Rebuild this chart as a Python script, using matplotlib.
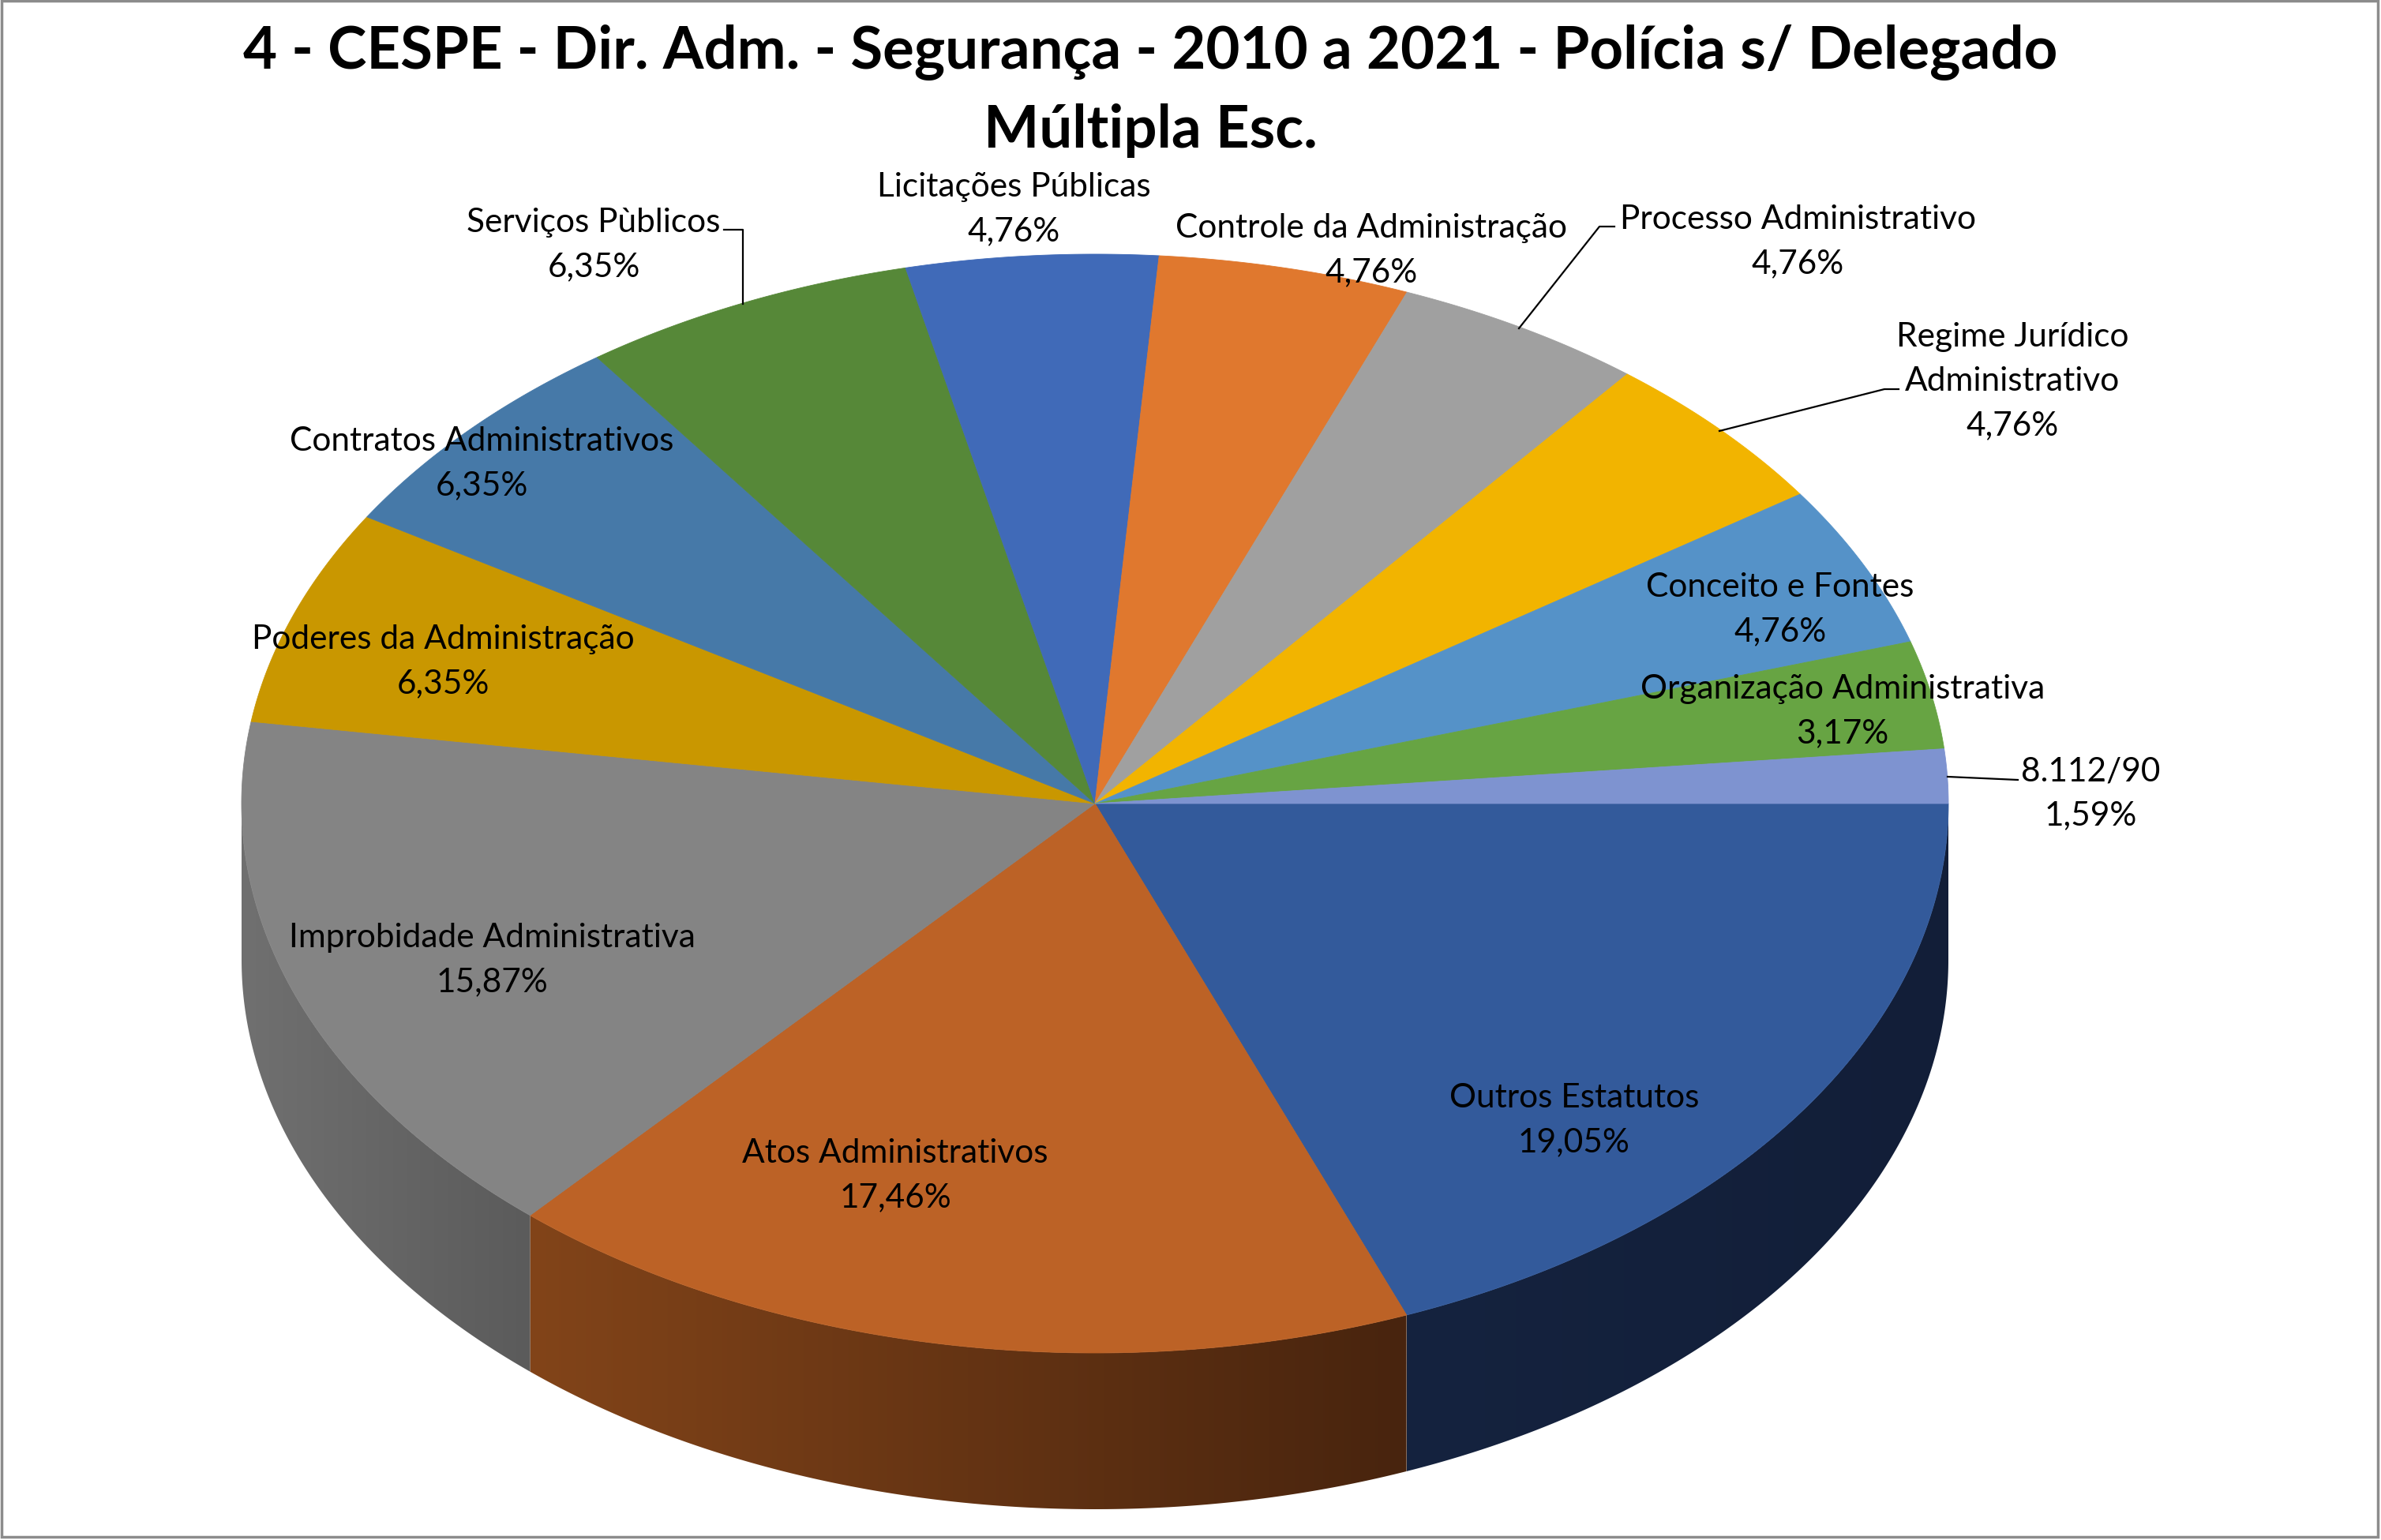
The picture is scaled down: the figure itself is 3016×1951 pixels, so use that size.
import numpy as np
import matplotlib
matplotlib.use('Agg')
import matplotlib.pyplot as plt
from matplotlib.patches import Polygon, Rectangle
from matplotlib.colors import to_rgb

# Dados (percentual de questoes por assunto)
titulo_1 = "4 - CESPE - Dir. Adm. - Segurança - 2010 a 2021 - Polícia s/ Delegado"
titulo_2 = "Múltipla Esc."
assuntos = ["Outros Estatutos", "Atos Administrativos", "Improbidade Administrativa",
            "Poderes da Administração", "Contratos Administrativos", "Serviços Pùblicos",
            "Licitações Públicas", "Controle da Administração", "Processo Administrativo",
            "Regime Jurídico\nAdministrativo", "Conceito e Fontes",
            "Organização Administrativa", "8.112/90"]
percentuais = [19.05, 17.46, 15.87, 6.35, 6.35, 6.35, 4.76, 4.76, 4.76, 4.76, 4.76, 3.17, 1.59]

# Estilo
cores_topo = ['#335A9B', '#BC6226', '#848484', '#C99700', '#4679A8', '#568838', '#406AB8',
              '#E0782E', '#A0A0A0', '#F2B400', '#5592C8', '#67A443', '#7E93D0']
cores_lado = {0: ('#15233F', '#121E38'), 1: ('#824419', '#48240E'), 2: ('#707070', '#5B5B5B')}

# posicao dos rotulos (centro do bloco, em pixels) e linhas de chamada
pos_rotulos = [(1994, 1416), (1134, 1486), (623, 1213), (561, 835), (610, 584), (752, 307),
               (1284, 262), (1737, 314), (2277, 303), (2549, 480), (2255, 769), (2334, 898),
               (2648, 1002)]
chamadas = {5: [(917, 291), (941, 291), (941, 385)],
            8: [(2045, 287), (2026, 287), (1924, 416)],
            9: [(2405, 493), (2387, 493), (2178, 546)],
            12: [(2467, 984), (2556, 988)]}

W, H = 3016, 1951
cx, cy, a, b, prof = 1387, 1018, 1081, 696, 198

fig = plt.figure(figsize=(W / 100, H / 100), dpi=100, facecolor='white')
ax = fig.add_axes([0, 0, 1, 1])
ax.axis('off')


def arco(t0, t1, dy=0, n=200):
    t = np.linspace(t0, t1, n)
    return np.column_stack([cx + a * np.cos(t), cy + b * np.sin(t) + dy])


total = sum(percentuais)
limites = np.concatenate([[0], np.cumsum(percentuais)]) / total * 2 * np.pi

# laterais (so a metade da frente aparece)
for i in range(len(percentuais)):
    t0, t1 = max(limites[i], 0), min(limites[i + 1], np.pi)
    if t1 <= t0:
        continue
    pts = np.vstack([arco(t0, t1), arco(t1, t0, prof)])
    poly = Polygon(pts, closed=True, facecolor='none', edgecolor='none')
    ax.add_patch(poly)
    c_esq, c_dir = cores_lado.get(i, (cores_topo[i], cores_topo[i]))
    x0, x1 = pts[:, 0].min(), pts[:, 0].max()
    y0, y1 = pts[:, 1].min(), pts[:, 1].max()
    f = np.linspace(0, 1, 256)[:, None]
    grad = (1 - f) * np.array(to_rgb(c_esq)) + f * np.array(to_rgb(c_dir))
    im = ax.imshow(grad[None, :, :], extent=(x0, x1, y1, y0), aspect='auto',
                   interpolation='bilinear', zorder=1)
    im.set_clip_path(poly)

# topo
for i in range(len(percentuais)):
    pts = np.vstack([[cx, cy], arco(limites[i], limites[i + 1])])
    ax.add_patch(Polygon(pts, closed=True, facecolor=cores_topo[i],
                         edgecolor=cores_topo[i], lw=0.6, zorder=2))

# rotulos
fonte = 'Lato'
passo = 56
for i, (nome, p) in enumerate(zip(assuntos, percentuais)):
    linhas = nome.split('\n') + [f"{p:.2f}".replace('.', ',') + '%']
    xc, yc = pos_rotulos[i]
    n = len(linhas)
    for k, txt in enumerate(linhas):
        yl = yc + (k - (n - 1) / 2) * passo + 15
        ax.text(xc, yl, txt, ha='center', va='baseline', fontsize=30.5,
                family=fonte, color='black', zorder=4)

for pts in chamadas.values():
    pts = np.array(pts)
    ax.plot(pts[:, 0], pts[:, 1], color='black', lw=1.6, zorder=3)

ax.text(1457, 87, titulo_1, ha='center', va='baseline', fontsize=53.6,
        family=fonte, fontweight='bold', color='black', zorder=4)
ax.text(1457, 187, titulo_2, ha='center', va='baseline', fontsize=53.6,
        family=fonte, fontweight='bold', color='black', zorder=4)

ax.add_patch(Rectangle((1.5, 1.5), 3010, 1946, facecolor='none', edgecolor='#8C8C8C',
                       lw=2.5, zorder=5))

ax.set_xlim(0, W)
ax.set_ylim(H, 0)
fig.savefig('out.png', dpi=100, facecolor='white')
